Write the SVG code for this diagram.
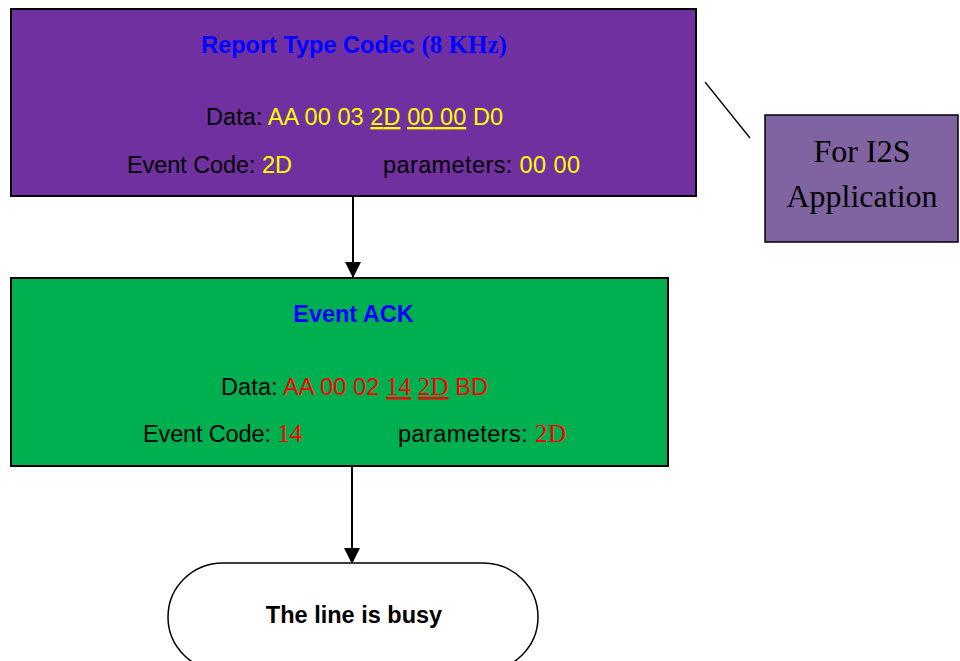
<svg xmlns="http://www.w3.org/2000/svg" width="960" height="661" viewBox="0 0 960 661">
<style>
.box{stroke:#000;stroke-width:2}
.t{font-family:"Liberation Sans",Arial,sans-serif;font-size:23.5px;fill:#000}
.b{font-weight:bold;fill:#0000FF}
.y{fill:#FFFF00}
.r{fill:#FF0000}
.ser{font-family:"Liberation Serif","Times New Roman",serif;font-size:25px}
.u{text-decoration:underline;text-decoration-thickness:3px}
</style>
<defs>
<marker id="ah" markerWidth="16" markerHeight="16" refX="15" refY="8" orient="auto" markerUnits="userSpaceOnUse" viewBox="0 0 16 16">
<path d="M0,0 L16,8 L0,16 z" fill="#000"/>
</marker>
</defs>
<rect width="960" height="661" fill="#fff"/>
<g id="connectors" stroke="#000" stroke-width="2" fill="none">
<line x1="353" y1="196" x2="353" y2="277" marker-end="url(#ah)"/>
<line x1="352" y1="466" x2="352" y2="563" marker-end="url(#ah)"/>
<line x1="705" y1="82" x2="750" y2="138" stroke-width="1.3"/>
</g>
<g id="report">
<rect class="box" x="11" y="9" width="685" height="187" fill="#7030A0"/>
<text class="t b" x="354" y="53" text-anchor="middle" font-size="22.5">Report Type Codec <tspan class="ser" font-weight="bold" font-size="26">(8 KHz)</tspan></text>
<text class="t" x="206" y="125" textLength="297">Data: <tspan class="y">AA 00 03 </tspan><tspan class="y u">2D</tspan><tspan class="y"> </tspan><tspan class="y u">00 00</tspan><tspan class="y"> D0</tspan></text>
<text class="t" x="127" y="173" textLength="165">Event Code: <tspan class="y">2D</tspan></text>
<text class="t" x="383" y="173" textLength="197">parameters: <tspan class="y">00 00</tspan></text>
</g>
<g id="ack">
<rect class="box" x="11" y="278" width="657" height="188" fill="#00B050"/>
<text class="t b" x="353.5" y="322" text-anchor="middle" font-size="21.5">Event ACK</text>
<text class="t" x="221" y="395" textLength="267">Data: <tspan class="r">AA 00 02 </tspan><tspan class="r u ser">14</tspan><tspan class="r"> </tspan><tspan class="r u ser">2D</tspan><tspan class="r"> BD</tspan></text>
<text class="t" x="143" y="442" textLength="159">Event Code: <tspan class="r ser">14</tspan></text>
<text class="t" x="398" y="442" textLength="168">parameters: <tspan class="r ser">2D</tspan></text>
</g>
<g id="busy">
<rect x="168" y="563" width="370" height="108" rx="55" ry="54" fill="#fff" stroke="#000" stroke-width="1.5"/>
<text class="t" x="354" y="623" text-anchor="middle" font-weight="bold" font-size="21.5">The line is busy</text>
</g>
<g id="i2s">
<rect x="765" y="115" width="193" height="127" fill="#8064A2" stroke="#000" stroke-width="1.5"/>
<text x="862" y="162" text-anchor="middle" font-family="Liberation Serif,'Times New Roman',serif" font-size="32">For I2S</text>
<text x="862" y="207" text-anchor="middle" font-family="Liberation Serif,'Times New Roman',serif" font-size="32">Application</text>
</g>
</svg>
